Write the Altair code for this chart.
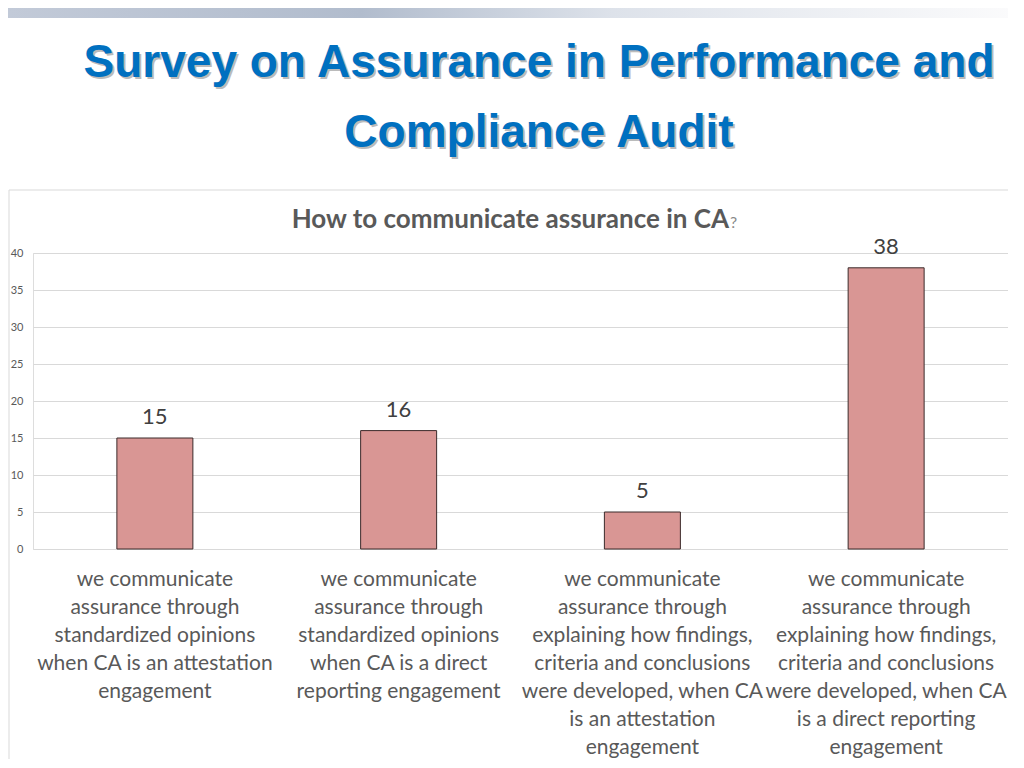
import altair as alt
import pandas as pd

categories = [
    "we communicate\nassurance through\nstandardized opinions\nwhen CA is an attestation\nengagement",
    "we communicate\nassurance through\nstandardized opinions\nwhen CA is a direct\nreporting engagement",
    "we communicate\nassurance through\nexplaining how findings,\ncriteria and conclusions\nwere developed, when CA\nis an attestation\nengagement",
    "we communicate\nassurance through\nexplaining how findings,\ncriteria and conclusions\nwere developed, when CA\nis a direct reporting\nengagement",
]
values = [15, 16, 5, 38]
y_ticks = [0, 5, 10, 15, 20, 25, 30, 35, 40]

slide_title = ["Survey on Assurance in Performance and", "Compliance Audit"]
chart_title = "How to communicate assurance in CA"

df = pd.DataFrame({"cat": categories, "val": values})

W, H = 975, 296
PX, PY = 33, 253  # page position of plot origin

TITLE_FONT = "Liberation Sans, Arial, sans-serif"
BODY_FONT = "Lato, Open Sans, sans-serif"

one = alt.Data(values=[{"k": 1}])

x_enc = alt.X("cat:N", sort=categories, title=None)
y_enc = alt.Y("val:Q", scale=alt.Scale(domain=[0, 40], nice=False), title=None,
              axis=alt.Axis(values=y_ticks))

base = alt.Chart(df)
bars = base.mark_bar(size=76, color="#D99694", stroke="#3b2b2b", strokeWidth=1).encode(x=x_enc, y=y_enc)
labels = base.mark_text(dy=-21, fontSize=22, color="#404040", font=BODY_FONT).encode(
    x=x_enc, y=y_enc, text="val:Q"
)

strip = alt.Chart(one).mark_rect(
    fill=alt.LinearGradient(
        gradient="linear", x1=0, x2=1, y1=0, y2=0,
        stops=[
            alt.GradientStop(offset=0, color="#c2cad8"),
            alt.GradientStop(offset=0.35, color="#b1bccd"),
            alt.GradientStop(offset=0.6, color="#dde2ea"),
            alt.GradientStop(offset=1, color="#fbfbfc"),
        ],
    ),
).encode(x=alt.value(-PX + 8), x2=alt.value(1024 - PX - 8), y=alt.value(-PY + 8), y2=alt.value(18 - PY))

box = alt.Chart(one).mark_rect(fill=None, stroke="#d9d9d9", strokeWidth=1).encode(
    x=alt.value(9 - PX), x2=alt.value(1015 - PX), y=alt.value(190 - PY), y2=alt.value(800 - PY)
)

cx = 539 - PX
shadow = alt.Chart(one).mark_text(
    text=slide_title, font=TITLE_FONT, fontSize=46, fontWeight="bold", color="#8f8f8f",
    lineHeight=70, baseline="alphabetic", align="center", opacity=0.6,
).encode(x=alt.value(cx + 2), y=alt.value(77 - PY + 2))
title = alt.Chart(one).mark_text(
    text=slide_title, font=TITLE_FONT, fontSize=46, fontWeight="bold", color="#0070C0",
    lineHeight=70, baseline="alphabetic", align="center",
).encode(x=alt.value(cx), y=alt.value(77 - PY))

ctitle = alt.Chart(one).mark_text(
    text=chart_title, font=BODY_FONT, fontSize=26, fontWeight="bold", color="#595959",
    baseline="alphabetic", align="right",
).encode(x=alt.value(729 - PX), y=alt.value(228 - PY))
qmark = alt.Chart(one).mark_text(
    text="?", font=BODY_FONT, fontSize=16, color="#8a8a8a", baseline="alphabetic", align="left",
).encode(x=alt.value(730 - PX), y=alt.value(228 - PY))

chart = alt.layer(strip, box, bars, labels, shadow, title, ctitle, qmark).properties(
    width=W, height=H,
    padding={"left": PX - 8, "top": PY - 8, "right": 0, "bottom": 210},
    autosize=alt.AutoSizeParams(type="none"),
).configure_view(stroke=None).configure(background="white").configure_axisX(
    labelExpr="split(datum.label, '\\n')", labelAngle=0, labelLimit=0,
    labelFontSize=21, labelLineHeight=28, labelColor="#595959",
    labelFont=BODY_FONT, labelPadding=19, labelBaseline="top",
    domain=False, ticks=False, grid=False,
).configure_axisY(
    labelFontSize=11, labelColor="#595959", labelFont=BODY_FONT, labelOverlap=False,
    labelPadding=10, domain=False, ticks=False, gridColor="#d9d9d9", gridWidth=1,
)

chart.save("out.html", embed_options={"renderer": "svg", "actions": False})
